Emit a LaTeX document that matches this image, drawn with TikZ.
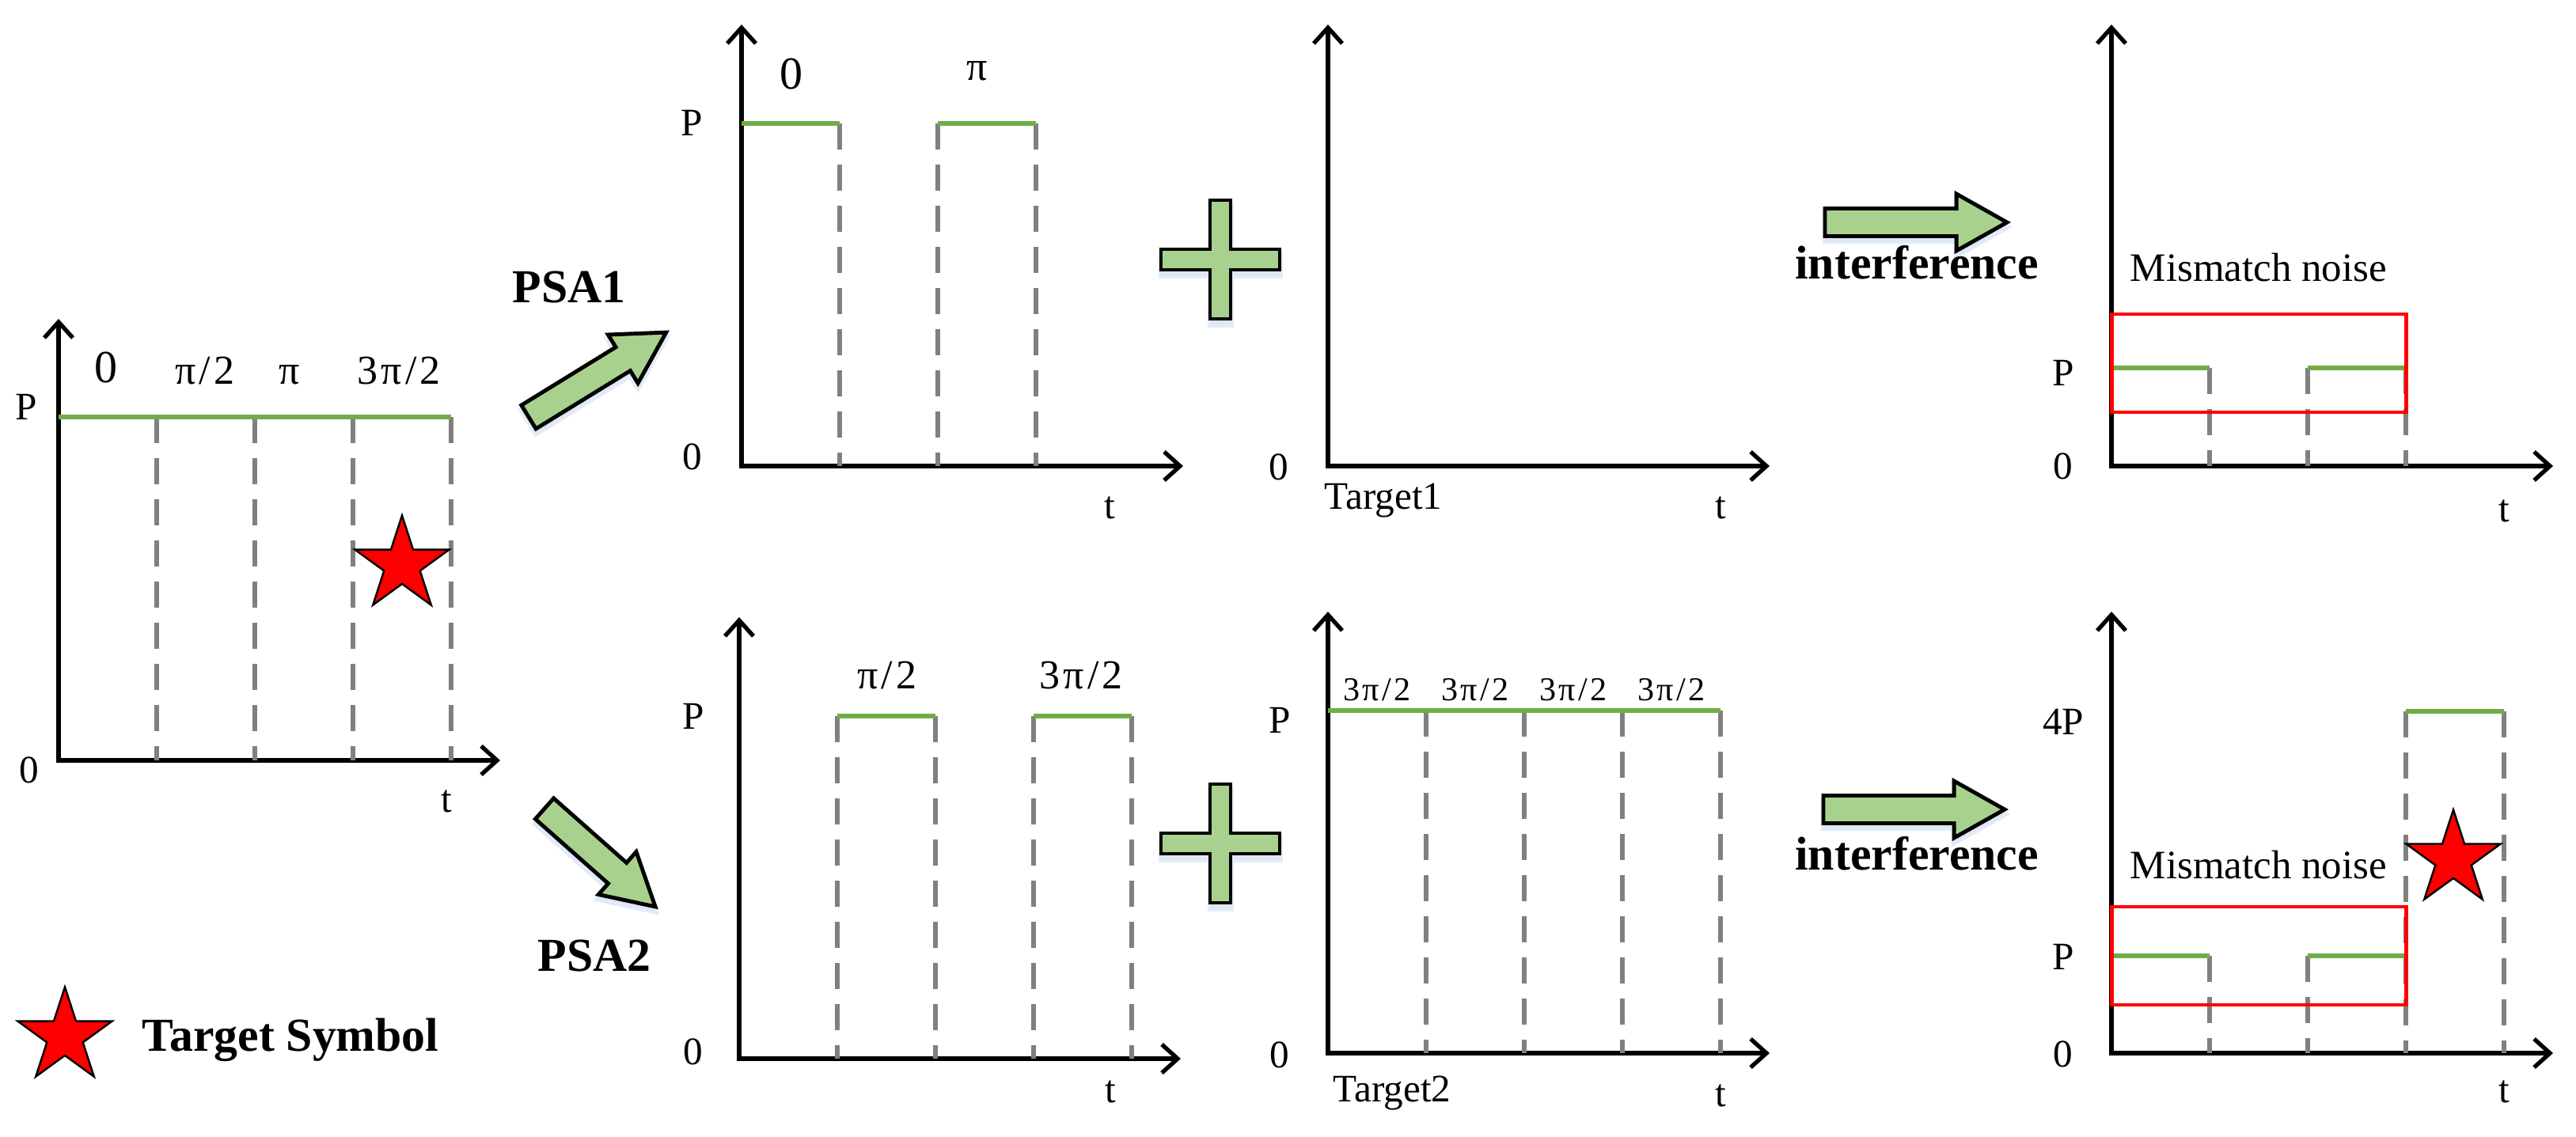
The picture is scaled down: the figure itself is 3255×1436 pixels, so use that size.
\documentclass[tikz,border=0pt]{standalone}
\usepackage{fontspec}
\setmainfont{Liberation Serif}
\newfontfamily\pifont[LetterSpace=8]{Liberation Serif}
\usetikzlibrary{arrows.meta,shapes.geometric,calc}
\definecolor{sig}{HTML}{70AD47}
\definecolor{afill}{HTML}{A9D18E}
\definecolor{gridc}{HTML}{808080}
\definecolor{noise}{HTML}{FF0000}
\definecolor{glow}{HTML}{DCE6F4}
\newcommand\drawaxes[3]{%
  \coordinate (#1-o) at (#2,#3);
  \coordinate (#1-top) at (#2,#3-558);
  \coordinate (#1-tip) at (#2+558,#3);
  \draw[axisline] (#1-top) -- (#1-o) -- (#1-tip);
}
\newcommand\arrowpath[1]{(0,-17.5) -- ({#1-64},-17.5) -- ({#1-64},-36) -- (#1,0)
      -- ({#1-64},36) -- ({#1-64},17.5) -- (0,17.5) -- cycle}
\newcommand\fatarrow[4]{%
  \begin{scope}[yshift=-0.06cm, shift={(#1,#2)}, rotate=#3]
    \fill[glowfill] \arrowpath{#4};
  \end{scope}
  \begin{scope}[shift={(#1,#2)}, rotate=#3]
    \draw[bigarrow] \arrowpath{#4};
  \end{scope}}
\newcommand\pluspath[2]{(#1-13,#2-75) -- (#1+13,#2-75) -- (#1+13,#2-13) -- (#1+75,#2-13)
   -- (#1+75,#2+13) -- (#1+13,#2+13) -- (#1+13,#2+75) -- (#1-13,#2+75)
   -- (#1-13,#2+13) -- (#1-75,#2+13) -- (#1-75,#2-13) -- (#1-13,#2-13) -- cycle}
\newcommand\plussign[2]{%
  \fill[glowfill] [yshift=-0.07cm] \pluspath{#1}{#2};
  \draw[bigarrow] \pluspath{#1}{#2};}
\begin{document}
\begin{tikzpicture}[x=0.01cm,y=-0.01cm,
  >={Straight Barb[length=0.2cm,width=0.36cm]},
  axisline/.style={<->, line width=1.5pt, line join=miter},
  sigline/.style={draw=sig, line width=1.9pt},
  gridl/.style={draw=gridc, line width=1.5pt, dash pattern=on 0.33cm off 0.19cm},
  noisebox/.style={draw=noise, line width=1.4pt},
  bigarrow/.style={draw=black, fill=afill, line width=1.4pt, line join=miter},
  glowfill/.style={fill=glow, draw=glow, line width=2pt, opacity=0.8},
  redstar/.style={star, star points=5, star point ratio=2.618, fill=red, draw=black,
    line width=0.7pt, inner sep=0pt, minimum size=1.25cm},
  axlbl/.style={font=\fontsize{14}{16}\selectfont, inner sep=0pt},
  phlbl/.style={font=\fontsize{16.5}{19}\selectfont, inner sep=0pt, anchor=base},
  pilbl/.style={font=\fontsize{14.8}{17}\pifont, inner sep=0pt, anchor=base},
  pismall/.style={font=\fontsize{12}{14}\pifont, inner sep=0pt, anchor=base},
  boldlbl/.style={font=\fontsize{17}{20}\selectfont\bfseries, inner sep=0pt, anchor=base},
  noiselbl/.style={font=\fontsize{14.5}{17}\selectfont, inner sep=0pt, anchor=base west}
]
\useasboundingbox (0,0) rectangle (3255,1436);

% ---------------- Panel A (transmitted symbols) ----------------
\drawaxes{A}{74}{961}
\foreach \x in {198,322,446,570} \draw[gridl] (\x,527) -- (\x,961);
\draw[sigline] (A-o |- 0,527) -- (570,527);
\node[phlbl] (A-ph0) at (134,483) {0};
\node[pilbl] (A-ph1) at (259,485) {π/2};
\node[pilbl] (A-ph2) at (366,485) {π};
\node[pilbl] (A-ph3) at (504,485) {3π/2};
\node[axlbl] (A-P) at (33,514) {P};
\node[axlbl] (A-0) at (37,973) {0};
\node[axlbl] (A-t) at (564,1013) {t};
\node[redstar] (A-star) at (508,714) {};

% ---------------- PSA arrows ----------------
\fatarrow{668}{527}{31.6}{204}
\node[boldlbl] (psa1) at (719,382) {PSA1};
\fatarrow{688}{1022}{-41.5}{187}
\node[boldlbl] (psa2) at (751,1227) {PSA2};

% ---------------- Panel B top (PSA1 output) ----------------
\drawaxes{B1}{937}{589}
\foreach \x in {1061,1185,1309} \draw[gridl] (\x,156) -- (\x,589);
\draw[sigline] (937,156) -- (1061,156);
\draw[sigline] (1185,156) -- (1309,156);
\node[phlbl] (B1-ph0) at (1000,112) {0};
\node[pilbl] (B1-ph2) at (1235,101) {π};
\node[axlbl] (B1-P) at (874,155) {P};
\node[axlbl] (B1-0) at (875,577) {0};
\node[axlbl] (B1-t) at (1402,642) {t};

% ---------------- Panel B bottom (PSA2 output) ----------------
\drawaxes{B2}{934}{1338}
\foreach \x in {1058,1182,1306,1430} \draw[gridl] (\x,905) -- (\x,1338);
\draw[sigline] (1058,905) -- (1182,905);
\draw[sigline] (1306,905) -- (1430,905);
\node[pilbl] (B2-ph1) at (1121,870) {π/2};
\node[pilbl] (B2-ph3) at (1366,870) {3π/2};
\node[axlbl] (B2-P) at (876,905) {P};
\node[axlbl] (B2-0) at (876,1329) {0};
\node[axlbl] (B2-t) at (1403,1380) {t};

% ---------------- plus signs ----------------
\plussign{1542}{328}
\plussign{1542}{1066}

% ---------------- Panel C top (Target1) ----------------
\drawaxes{C1}{1678}{589}
\node[axlbl] (C1-0) at (1616,590) {0};
\node[axlbl, anchor=base west] (C1-name) at (1673,643) {Target1};
\node[axlbl] (C1-t) at (2174,642) {t};

% ---------------- Panel C bottom (Target2) ----------------
\drawaxes{C2}{1678}{1331}
\foreach \x in {1802,1926,2050,2174} \draw[gridl] (\x,898) -- (\x,1331);
\draw[sigline] (1678,898) -- (2174,898);
\foreach \x/\n in {1740/1,1864/2,1988/3,2112/4}
  \node[pismall] (C2-ph\n) at (\x,885) {3π/2};
\node[axlbl] (C2-P) at (1617,910) {P};
\node[axlbl] (C2-0) at (1617,1333) {0};
\node[axlbl, anchor=base west] (C2-name) at (1684,1392) {Target2};
\node[axlbl] (C2-t) at (2174,1385) {t};

% ---------------- interference arrows ----------------
\fatarrow{2306}{281}{0}{230}
\node[boldlbl] (int1) at (2422,352) {interference};
\fatarrow{2304}{1023}{0}{229}
\node[boldlbl] (int2) at (2422,1099) {interference};

% ---------------- Panel D top (result PSA1) ----------------
\drawaxes{D1}{2668}{589}
\foreach \x in {2792,2916,3040} \draw[gridl] (\x,465) -- (\x,589);
\draw[sigline] (2668,465) -- (2792,465);
\draw[sigline] (2916,465) -- (3040,465);
\draw[noisebox] (2668,397) rectangle (3040,521);
\node[noiselbl] (D1-noise) at (2691,355) {Mismatch noise};
\node[axlbl] (D1-P) at (2607,471) {P};
\node[axlbl] (D1-0) at (2607,589) {0};
\node[axlbl] (D1-t) at (3164,646) {t};

% ---------------- Panel D bottom (result PSA2) ----------------
\drawaxes{D2}{2668}{1331}
\foreach \x in {2792,2916} \draw[gridl] (\x,1208) -- (\x,1331);
\foreach \x in {3040,3164} \draw[gridl] (\x,899) -- (\x,1331);
\draw[sigline] (2668,1208) -- (2792,1208);
\draw[sigline] (2916,1208) -- (3040,1208);
\draw[sigline] (3040,899) -- (3164,899);
\draw[noisebox] (2668,1146) rectangle (3040,1270);
\node[noiselbl] (D2-noise) at (2691,1110) {Mismatch noise};
\node[redstar] (D2-star) at (3100,1086) {};
\node[axlbl] (D2-4P) at (2607,912) {4P};
\node[axlbl] (D2-P) at (2607,1209) {P};
\node[axlbl] (D2-0) at (2607,1332) {0};
\node[axlbl] (D2-t) at (3164,1380) {t};

% ---------------- legend ----------------
\node[redstar] (leg-star) at (82,1310) {};
\node[boldlbl, anchor=base west] (leg-text) at (179,1328) {Target Symbol};
\end{tikzpicture}
\end{document}
